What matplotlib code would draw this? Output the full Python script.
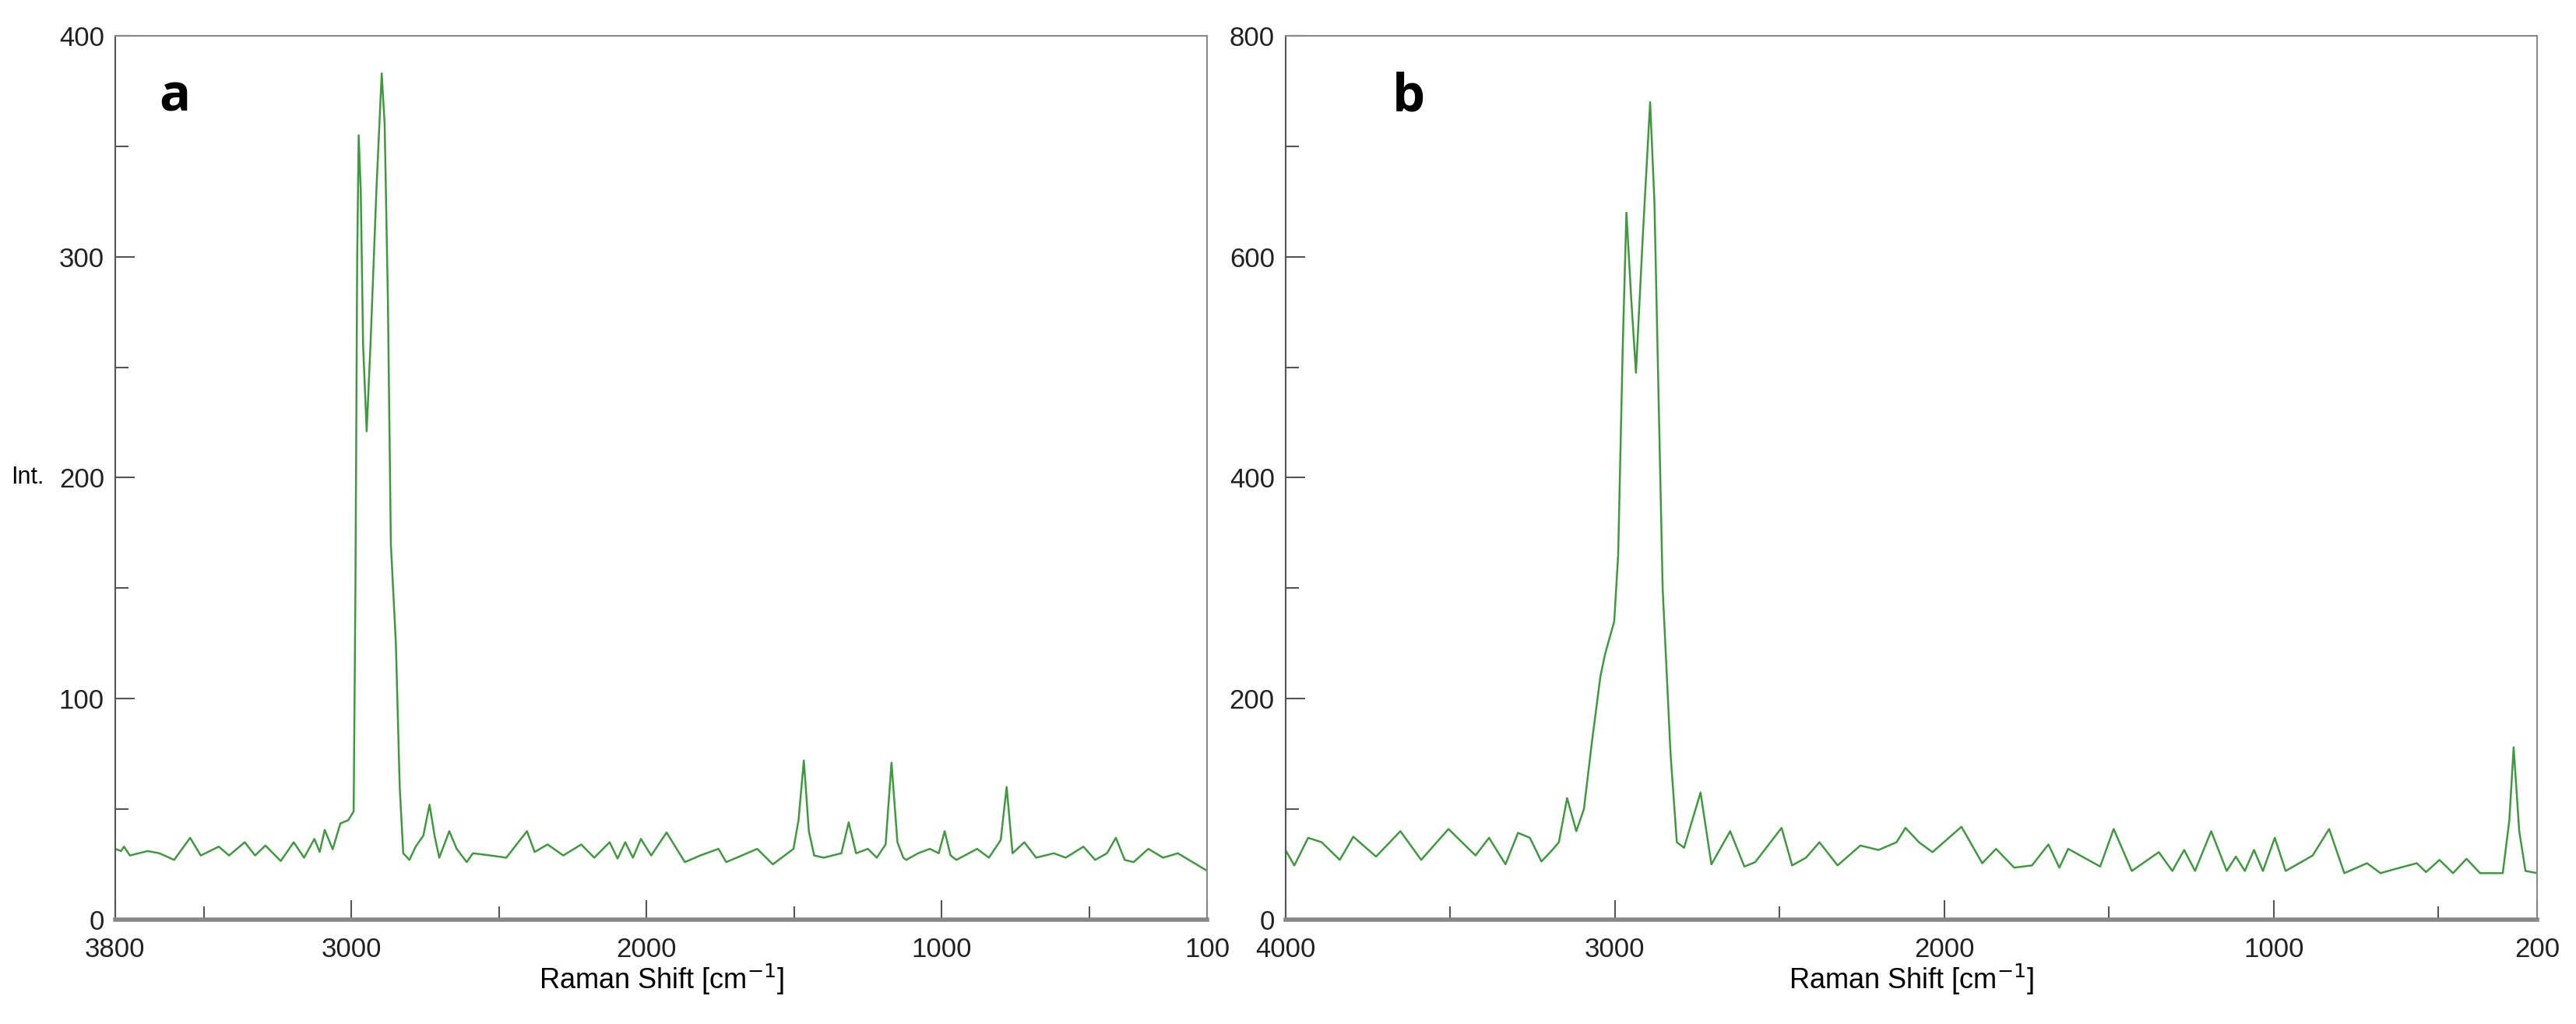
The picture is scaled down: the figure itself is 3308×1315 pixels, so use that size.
import matplotlib
matplotlib.use('Agg')
import matplotlib.pyplot as plt
from matplotlib.ticker import MultipleLocator

plt.rcParams['font.family'] = ['Liberation Sans', 'DejaVu Sans']

# ── spectrum a ───────────────────────────────────────────────────────────
shift_a = [3800, 3780, 3770, 3750, 3720, 3690, 3650, 3600, 3546, 3510, 3449, 3414,
           3361, 3326, 3291, 3239, 3195, 3160, 3125, 3107, 3090, 3063, 3037, 3010,
           2992, 2986, 2980, 2975, 2968, 2960, 2948, 2935, 2915, 2897, 2887, 2876,
           2866, 2849, 2836, 2824, 2803, 2782, 2756, 2735, 2718, 2702, 2668, 2643,
           2609, 2588, 2528, 2475,
           2405, 2379, 2335, 2282, 2221, 2177, 2125, 2098, 2072, 2046, 2019, 1984,
           1932, 1870, 1818, 1756, 1730, 1677, 1625, 1572, 1502, 1485, 1467, 1450,
           1432, 1400, 1340, 1315, 1290, 1250, 1220, 1190, 1170, 1150, 1130, 1120,
           1080, 1040, 1010, 990, 970, 950, 880, 840, 800, 780, 760, 720, 680, 620,
           580, 520, 480, 440, 410, 380, 350, 300, 250, 200, 150, 100]
int_a = [32, 31, 33, 29, 30, 31, 30, 27, 37, 29, 33, 29,
         35, 29, 33.5, 26.5, 35, 28, 36.5, 30.6, 40.6, 31.8, 43.5, 45,
         49, 150, 300, 355, 330, 260, 221, 260, 330, 383, 360, 280,
         170, 125, 60, 30, 27, 33, 38, 52, 38, 28, 40, 32,
         26, 30, 29, 28,
         40, 30.6, 34, 29, 34, 28, 35, 27.6, 35, 28, 36.5, 29,
         39.4, 26, 29, 32, 26, 29, 32, 25, 32, 45, 72, 40,
         29, 28, 30, 44, 30, 32, 28, 34, 71, 35, 28, 27,
         30, 32, 30, 40, 29, 27, 32, 28, 36, 60, 30, 35, 28, 30,
         28, 33, 27, 30, 37, 27, 26, 32, 28, 30, 26, 22]

# ── spectrum b ───────────────────────────────────────────────────────────
shift_b = [4000, 3973, 3931, 3890, 3835, 3794, 3725, 3651, 3588, 3505, 3423, 3382,
           3332, 3294, 3258, 3223, 3190, 3170, 3145, 3117, 3094, 3070, 3044, 3030,
           3002, 2990, 2976, 2965, 2950, 2936, 2915, 2893, 2880, 2855, 2831, 2812,
           2790, 2740, 2707, 2650, 2607, 2574, 2494, 2462, 2420, 2379, 2324, 2255,
           2200, 2145, 2118,
           2077, 2036, 1948, 1885, 1843, 1788, 1734, 1684, 1651, 1624, 1527, 1486,
           1431, 1349, 1308, 1272, 1239, 1190, 1143, 1115, 1088, 1060, 1033, 997,
           964, 882, 832, 786, 717, 676, 635, 566, 538, 497, 456, 415, 374, 305,
           285, 272, 255, 236, 200]
int_b = [63, 49, 74, 70, 54, 75, 57, 80, 54, 82, 58, 74,
         50, 78.5, 74, 52.6, 63, 70, 110, 80, 100, 160, 220, 240,
         270, 330, 520, 640, 560, 495, 620, 740, 650, 300, 150, 70,
         65, 115, 50, 80, 48, 52, 83, 49, 56, 70, 49, 67,
         63, 70, 83,
         70, 61, 84, 51, 64, 47, 49, 68, 47, 64, 48, 82,
         44, 61, 44, 63, 44, 80, 44, 57, 44, 63, 44, 74,
         44, 58, 82, 42, 51, 42, 45.5, 51, 43, 54, 42, 55, 42, 42,
         90, 156, 80, 44, 42]

LINE = '#3f9a3f'
SPINE = '#555555'

fig = plt.figure(figsize=(33.08, 13.15), dpi=100)
ax_a = fig.add_axes([0.0447, 0.102, 0.424, 0.863])
ax_b = fig.add_axes([0.499, 0.102, 0.486, 0.863])


def style(ax, xlim, ymax, ymaj, letter, lx):
    ax.set_xlim(*xlim)
    ax.set_ylim(0, ymax)
    ax.xaxis.set_minor_locator(MultipleLocator(500))
    ax.yaxis.set_major_locator(MultipleLocator(ymaj))
    ax.yaxis.set_minor_locator(MultipleLocator(ymaj / 2))
    ax.set_xticks([xlim[0]] + [t for t in range(1000, 4001, 1000) if xlim[1] < t < xlim[0]] + [xlim[1]])
    ax.tick_params(which='both', direction='in', top=False, right=False,
                   labelsize=25, colors='#222222')
    ax.tick_params(axis='x', pad=16)
    ax.tick_params(axis='y', pad=10)
    ax.tick_params(which='major', length=18, width=1.5, color=SPINE)
    ax.tick_params(which='minor', length=12, width=1.5, color=SPINE)
    for s in ax.spines.values():
        s.set_color('#888888')
        s.set_linewidth(1.5)
    ax.spines['bottom'].set_linewidth(4)
    ax.spines['left'].set_color(SPINE)
    ax.set_xlabel('Raman Shift [cm$^{-1}$]', fontsize=26, labelpad=0)
    ax.text(lx, 0.93, letter, transform=ax.transAxes, fontsize=48,
            fontweight='bold', family='Open Sans', va='center')


ax_a.plot(shift_a, int_a, color=LINE, linewidth=1.8)
style(ax_a, (3800, 100), 400, 100, 'a', 0.04)
ax_a.text(-0.095, 0.5, 'Int.', transform=ax_a.transAxes, fontsize=22, va='center')

ax_b.plot(shift_b, int_b, color=LINE, linewidth=1.8)
style(ax_b, (4000, 200), 800, 200, 'b', 0.085)

fig.savefig('out.png', dpi=100)
